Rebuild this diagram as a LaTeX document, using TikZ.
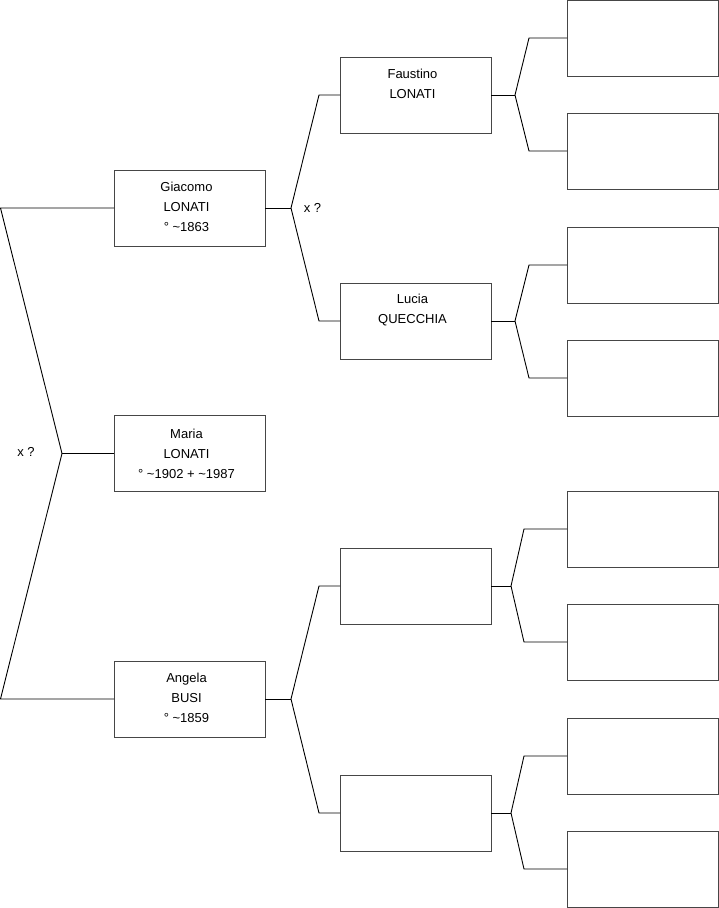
\documentclass[tikz,border=0pt]{standalone}
\usepackage{fontspec}
\setmainfont{Liberation Sans}
\definecolor{boxline}{RGB}{70,70,70}
\begin{document}
\begin{tikzpicture}[x=1pt,y=-1pt,
  person/.style={draw=boxline, line width=1pt, fill=white, minimum width=151pt, minimum height=76pt, inner sep=0pt, outer sep=0pt},
  txt/.style={align=center, inner sep=0pt, font=\fontsize{13}{20}\selectfont},
  conn/.style={draw=black, line width=0.9pt, line join=miter}]
\useasboundingbox (0,0) rectangle (719,908);
% generation 0/1
\node[person] (giacomo) at (189.5,208) {};
\node[person] (maria)   at (189.5,453.5) {};
\node[person] (angela)  at (189.5,699) {};
% generation 2
\node[person] (faustino) at (415.5,95) {};
\node[person] (lucia)    at (415.5,321) {};
\node[person] (p3)       at (415.5,586) {};
\node[person] (p4)       at (415.5,813) {};
% generation 3
\node[person] (q1) at (642.5,38) {};
\node[person] (q2) at (642.5,151) {};
\node[person] (q3) at (642.5,265) {};
\node[person] (q4) at (642.5,378) {};
\node[person] (q5) at (642.5,529) {};
\node[person] (q6) at (642.5,642) {};
\node[person] (q7) at (642.5,756) {};
\node[person] (q8) at (642.5,869) {};
% texts
\node[txt] (tgiacomo) at (186.5,207) {Giacomo\\LONATI\\° \textasciitilde1863};
\node[txt] (tmaria) at (186.5,454) {Maria\\LONATI\\° \textasciitilde1902 + \textasciitilde1987};
\node[txt] (tangela) at (186.5,698) {Angela\\BUSI\\° \textasciitilde1859};
\node[txt] (tfaustino) at (412.5,84) {Faustino\\LONATI};
\node[txt] (tlucia) at (412.5,310) {Lucia\\QUECCHIA};
\node[txt] (x1) at (26,452) {x ?};
\node[txt] (x2) at (312.5,208) {x ?};
% fork coordinates
\coordinate (g0) at (0.5,208);
\coordinate (a0) at (0.5,699);
\coordinate (f0) at (62,453.5);
\coordinate (f1) at (291,208);
\coordinate (f1a) at (319,95);
\coordinate (f1b) at (319,321);
\coordinate (f2) at (291,699);
\coordinate (f2a) at (319,586);
\coordinate (f2b) at (319,813);
\coordinate (f3) at (515,95);
\coordinate (f3a) at (529,38);
\coordinate (f3b) at (529,151);
\coordinate (f4) at (515,321);
\coordinate (f4a) at (529,265);
\coordinate (f4b) at (529,378);
\coordinate (f5) at (511,586);
\coordinate (f5a) at (524,529);
\coordinate (f5b) at (524,642);
\coordinate (f6) at (511,813);
\coordinate (f6a) at (524,756);
\coordinate (f6b) at (524,869);
% connectors
\draw[conn] (giacomo.west) -- (g0) -- (f0) -- (a0) -- (angela.west);
\draw[conn] (f0) -- (maria.west);
\draw[conn] (giacomo.east) -- (f1);
\draw[conn] (faustino.west) -- (f1a) -- (f1) -- (f1b) -- (lucia.west);
\draw[conn] (angela.east) -- (f2);
\draw[conn] (p3.west) -- (f2a) -- (f2) -- (f2b) -- (p4.west);
\draw[conn] (faustino.east) -- (f3);
\draw[conn] (q1.west) -- (f3a) -- (f3) -- (f3b) -- (q2.west);
\draw[conn] (lucia.east) -- (f4);
\draw[conn] (q3.west) -- (f4a) -- (f4) -- (f4b) -- (q4.west);
\draw[conn] (p3.east) -- (f5);
\draw[conn] (q5.west) -- (f5a) -- (f5) -- (f5b) -- (q6.west);
\draw[conn] (p4.east) -- (f6);
\draw[conn] (q7.west) -- (f6a) -- (f6) -- (f6b) -- (q8.west);
\end{tikzpicture}
\end{document}
